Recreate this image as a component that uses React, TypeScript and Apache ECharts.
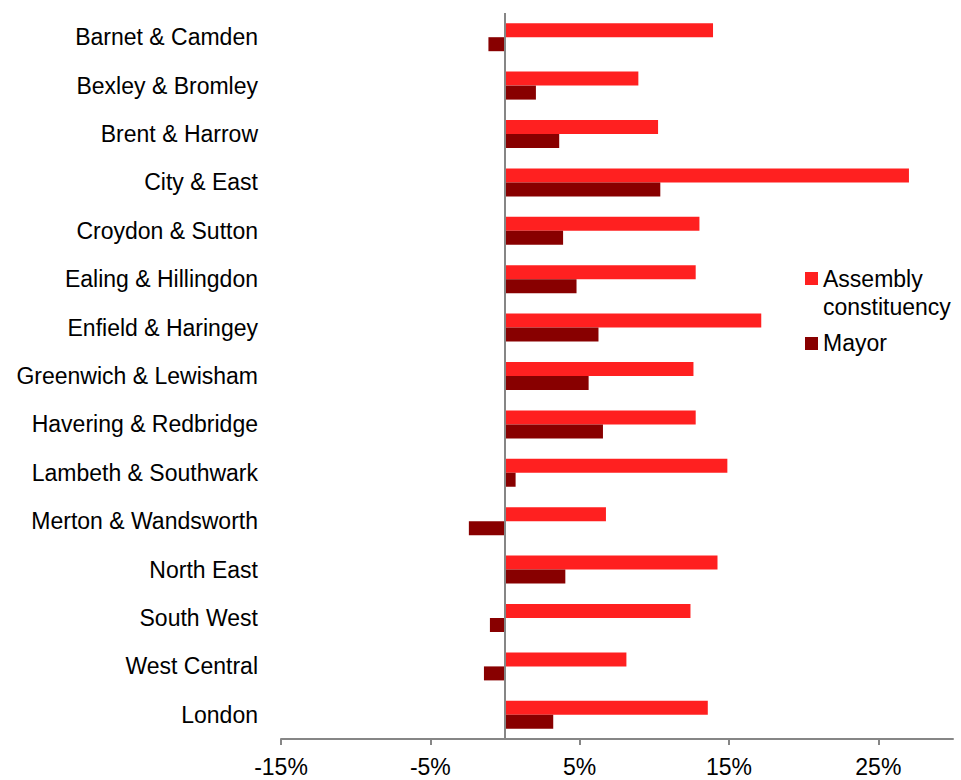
import React, { useEffect, useRef } from "react";
import * as echarts from "echarts";

const categories = [
  "Barnet & Camden",
  "Bexley & Bromley",
  "Brent & Harrow",
  "City & East",
  "Croydon & Sutton",
  "Ealing & Hillingdon",
  "Enfield & Haringey",
  "Greenwich & Lewisham",
  "Havering & Redbridge",
  "Lambeth & Southwark",
  "Merton & Wandsworth",
  "North East",
  "South West",
  "West Central",
  "London",
];

const assemblyValues = [13.93, 8.93, 10.25, 27.05, 13.02, 12.77, 17.16, 12.62, 12.77, 14.89, 6.76, 14.23, 12.42, 8.13, 13.58];
const mayorValues = [-1.11, 2.07, 3.63, 10.4, 3.89, 4.79, 6.26, 5.6, 6.56, 0.71, -2.42, 4.04, -1.01, -1.41, 3.23];

const xTicks = [-15, -5, 5, 15, 25];

const seriesNames = ["Assembly constituency", "Mayor"];
const legendLines = [["Assembly", "constituency"], ["Mayor"]];

const RED = "#FF2020";
const DARK = "#880000";
const GREY = "#868686";
const FONT = "'Liberation Sans', Arial, sans-serif";

export default function App() {
  const ref = useRef<HTMLDivElement>(null);
  useEffect(() => {
    if (!ref.current) return;
    const chart = echarts.init(ref.current, null, { renderer: "svg" });
    chart.setOption({
      animation: false,
      backgroundColor: "#ffffff",
      textStyle: { fontFamily: FONT },
      grid: { left: 281, right: 8, top: 13, bottom: 41, containLabel: false },
      xAxis: {
        type: "value",
        min: -15,
        max: 30,
        interval: 10,
        axisLine: { show: true, onZero: false, lineStyle: { color: GREY, width: 2 } },
        axisTick: { show: true, customValues: xTicks, length: 6, lineStyle: { color: GREY, width: 2 } },
        axisLabel: {
          customValues: xTicks,
          formatter: (v: number) => `${v}%`,
          color: "#000",
          fontSize: 23,
          fontFamily: FONT,
          margin: 16,
        },
        splitLine: { show: false },
      },
      yAxis: {
        type: "category",
        inverse: true,
        data: categories,
        axisLine: { show: false, onZero: false },
        axisTick: { show: false },
        axisLabel: { color: "#000", fontSize: 23, fontFamily: FONT, margin: 23 },
        splitLine: { show: false },
      },
      series: [
        {
          name: seriesNames[0],
          type: "bar",
          data: assemblyValues,
          barWidth: 14,
          barGap: "0%",
          itemStyle: { color: RED },
          markLine: {
            silent: true,
            symbol: "none",
            label: { show: false },
            lineStyle: { color: GREY, width: 2, type: "solid" },
            data: [{ xAxis: 0 }],
          },
          z: 2,
        },
        {
          name: seriesNames[1],
          type: "bar",
          data: mayorValues,
          barWidth: 14,
          barGap: "0%",
          itemStyle: { color: DARK },
          z: 2,
        },
      ],
      graphic: [
        { type: "rect", shape: { x: 805, y: 272, width: 13, height: 13 }, style: { fill: RED } },
        { type: "text", x: 823, y: 279, style: { text: legendLines[0][0], fontSize: 23, fontFamily: FONT, fill: "#000", textVerticalAlign: "middle" } },
        { type: "text", x: 823, y: 307, style: { text: legendLines[0][1], fontSize: 23, fontFamily: FONT, fill: "#000", textVerticalAlign: "middle" } },
        { type: "rect", shape: { x: 805, y: 337, width: 13, height: 13 }, style: { fill: DARK } },
        { type: "text", x: 823, y: 343, style: { text: legendLines[1][0], fontSize: 23, fontFamily: FONT, fill: "#000", textVerticalAlign: "middle" } },
      ],
    });
    return () => chart.dispose();
  }, []);
  return (
    <div
      ref={ref}
      style={{ position: "fixed", left: 0, top: 0, width: 961, height: 780, background: "#fff" }}
    />
  );
}
